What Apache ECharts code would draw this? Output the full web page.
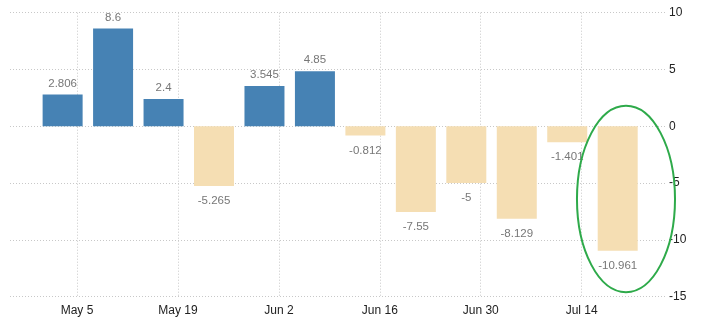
<!DOCTYPE html>
<html>
<head>
<meta charset="utf-8">
<script src="https://cdn.jsdelivr.net/npm/echarts@6/dist/echarts.min.js"></script>
<style>
  html, body { margin: 0; padding: 0; background: #fff; }
  #chart { width: 716px; height: 327px; }
</style>
</head>
<body>
<div id="chart"></div>
<script>
// Weekly changes (release dates) and their values
const weekDates = ['2019-05-03', '2019-05-10', '2019-05-17', '2019-05-24', '2019-05-31', '2019-06-07',
                   '2019-06-14', '2019-06-21', '2019-06-28', '2019-07-05', '2019-07-12', '2019-07-19'];
const weekValues = [2.806, 8.6, 2.4, -5.265, 3.545, 4.85, -0.812, -7.55, -5, -8.129, -1.401, -10.961];
// Dates that carry an axis label and a vertical grid line
const tickDates = ['2019-05-05', '2019-05-19', '2019-06-02', '2019-06-16', '2019-06-30', '2019-07-14'];
const yTicks = [-15, -10, -5, 0, 5, 10];

const MONTHS = ['Jan', 'Feb', 'Mar', 'Apr', 'May', 'Jun', 'Jul', 'Aug', 'Sep', 'Oct', 'Nov', 'Dec'];
const DAY = 86400000;
function toDay(s) {
  const [y, m, d] = s.split('-').map(Number);
  return Date.UTC(y, m - 1, d) / DAY;
}
function dayLabel(v) {
  const d = new Date(Math.round(v) * DAY);
  return MONTHS[d.getUTCMonth()] + ' ' + d.getUTCDate();
}

const tickDays = tickDates.map(toDay);
const xMin = tickDays[0] - 9.3;
const xMax = tickDays[tickDays.length - 1] + 11.7;

const UP = '#4682b4';
const DOWN = '#f5deb3';

const barData = weekDates.map((d, i) => {
  const v = weekValues[i];
  return {
    value: [toDay(d), v],
    itemStyle: { color: v >= 0 ? UP : DOWN },
    label: { position: v >= 0 ? 'top' : 'bottom', distance: v >= 0 ? 5 : 9 }
  };
});

const gridStroke = { color: '#c8c8c8', type: [1, 2], width: 1 };

const chart = echarts.init(document.getElementById('chart'), null, { renderer: 'canvas' });
chart.setOption({
  animation: false,
  backgroundColor: '#ffffff',
  grid: { left: 10, right: 50, top: 12.7, bottom: 30.3, containLabel: false },
  xAxis: {
    type: 'value',
    min: xMin,
    max: xMax,
    axisLine: { show: false },
    axisTick: { show: true, length: 3, lineStyle: gridStroke, customValues: tickDays },
    splitLine: { show: true, lineStyle: gridStroke },
    axisLabel: {
      customValues: tickDays,
      formatter: dayLabel,
      color: '#222',
      fontFamily: 'Liberation Sans, Arial, sans-serif',
      fontSize: 12,
      margin: 8
    }
  },
  yAxis: {
    type: 'value',
    position: 'right',
    min: yTicks[0],
    max: yTicks[yTicks.length - 1],
    interval: 5,
    axisLine: { show: false },
    axisTick: { show: false },
    splitLine: { show: true, lineStyle: gridStroke },
    axisLabel: {
      color: '#222',
      fontFamily: 'Liberation Sans, Arial, sans-serif',
      fontSize: 12,
      margin: 3
    }
  },
  series: [{
    type: 'bar',
    barWidth: 40,
    data: barData,
    label: {
      show: true,
      color: '#777',
      fontFamily: 'Liberation Sans, Arial, sans-serif',
      fontSize: 11.5,
      formatter: p => String(p.value[1])
    }
  }]
});

// Highlight ring around the latest week
const lastDay = toDay(weekDates[weekDates.length - 1]);
const ringCenter = chart.convertToPixel({ gridIndex: 0 }, [lastDay + 1.15, -6.4]);
const ringEdge = chart.convertToPixel({ gridIndex: 0 }, [lastDay + 1.15 + 6.8, 1.8]);
chart.setOption({
  graphic: [{
    type: 'ellipse',
    shape: {
      cx: ringCenter[0],
      cy: ringCenter[1],
      rx: ringEdge[0] - ringCenter[0],
      ry: ringCenter[1] - ringEdge[1]
    },
    style: { fill: 'none', stroke: '#2eaa4a', lineWidth: 2 },
    z: 100
  }]
});
</script>
</body>
</html>
